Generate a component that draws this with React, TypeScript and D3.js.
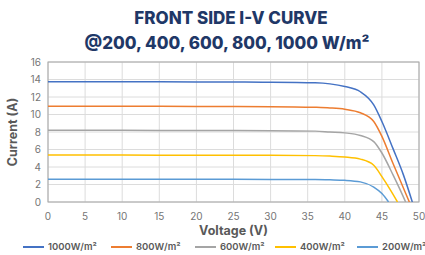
import React from 'react';
import * as d3 from 'd3';

// series labels & colours (Excel-like palette)
const seriesNames = ['1000W/m²', '800W/m²', '600W/m²', '400W/m²', '200W/m²'];
const seriesColors = ['#4472c4', '#ed7d31', '#a5a5a5', '#ffc000', '#5b9bd5'];

// I-V points: [voltage, current]
const iv1000: [number, number][] = [
  [0, 13.75], [10, 13.74], [20, 13.72], [30, 13.69], [36, 13.62], [38, 13.5], [40, 13.2],
  [42.1, 12.6], [43.9, 11.1], [45, 9.2], [46.5, 6.1], [47.9, 3.1], [49.1, 0],
];
const iv800: [number, number][] = [
  [0, 10.95], [10, 10.94], [20, 10.92], [30, 10.9], [36, 10.82], [38, 10.75], [40, 10.6],
  [42.1, 10.2], [43.9, 9.2], [45, 7.5], [46.5, 4.4], [47.7, 2.0], [48.7, 0],
];
const iv600: [number, number][] = [
  [0, 8.2], [10, 8.19], [20, 8.17], [30, 8.15], [36, 8.1], [38, 8.0], [40, 7.9],
  [42.1, 7.6], [43.9, 6.9], [45, 5.6], [46.5, 3.1], [47.4, 1.5], [48.2, 0],
];
const iv400: [number, number][] = [
  [0, 5.37], [10, 5.36], [20, 5.35], [30, 5.34], [36, 5.3], [38, 5.25], [40, 5.15],
  [42.1, 4.9], [43.9, 4.2], [45, 2.9], [46.2, 1.3], [47.1, 0],
];
const iv200: [number, number][] = [
  [0, 2.6], [10, 2.6], [20, 2.59], [30, 2.58], [36, 2.56], [38, 2.53], [40, 2.48],
  [42.1, 2.3], [43.9, 1.7], [45, 0.96], [45.9, 0],
];
const seriesData = [iv1000, iv800, iv600, iv400, iv200];

const xTicks = [0, 5, 10, 15, 20, 25, 30, 35, 40, 45, 50];
const yTicks = [0, 2, 4, 6, 8, 10, 12, 14, 16];

const W = 425;
const H = 255;
const margin = { left: 48, right: 6, top: 62, bottom: 53 };

const font = 'Inter, "Open Sans", sans-serif';

export default function App() {
  const x = d3.scaleLinear().domain([0, 50]).range([margin.left, W - margin.right]);
  const y = d3.scaleLinear().domain([0, 16]).range([H - margin.bottom, margin.top]);

  const line = d3
    .line<[number, number]>()
    .x((d) => x(d[0]))
    .y((d) => y(d[1]))
    .curve(d3.curveMonotoneX);

  const legendX = [23, 111, 195, 275, 357];

  return (
    <svg
      width={W}
      height={H}
      style={{ position: 'absolute', left: 0, top: 0, background: '#fff' }}
      fontFamily={font}
    >
      {/* title */}
      <text x={231} y={24} textAnchor="middle" fontSize={17} fontWeight={800} fill="#1f3867">
        FRONT SIDE I-V CURVE
      </text>
      <text x={227} y={49} textAnchor="middle" fontSize={17} fontWeight={800} fill="#1f3867">
        @200, 400, 600, 800, 1000 W/m²
      </text>

      {/* grid */}
      {yTicks.map((t) => (
        <line key={'gy' + t} x1={x(0)} x2={x(50)} y1={y(t)} y2={y(t)} stroke="#dcdcdc" strokeWidth={1} />
      ))}
      {xTicks.map((t) => (
        <line key={'gx' + t} x1={x(t)} x2={x(t)} y1={y(0)} y2={y(16)} stroke="#dcdcdc" strokeWidth={1} />
      ))}
      <rect
        x={x(0)}
        y={y(16)}
        width={x(50) - x(0)}
        height={y(0) - y(16)}
        fill="none"
        stroke="#a6a6a6"
        strokeWidth={1}
      />

      {/* curves */}
      <defs>
        <clipPath id="plotClip">
          <rect x={x(0)} y={y(16)} width={x(50) - x(0)} height={y(0) - y(16)} />
        </clipPath>
      </defs>
      <g clipPath="url(#plotClip)">
        {seriesData.map((s, i) => (
          <path key={i} d={line(s) || ''} fill="none" stroke={seriesColors[i]} strokeWidth={1.5} />
        ))}
      </g>

      {/* y tick labels */}
      {yTicks.map((t) => (
        <text key={'ty' + t} x={x(0) - 7} y={y(t)} dy="0.35em" textAnchor="end" fontSize={10} fill="#757575">
          {t}
        </text>
      ))}
      {/* x tick labels */}
      {xTicks.map((t) => (
        <text key={'tx' + t} x={x(t)} y={216} dy="0.35em" textAnchor="middle" fontSize={10} fill="#757575">
          {t}
        </text>
      ))}

      {/* axis titles */}
      <text x={x(25)} y={231} dy="0.35em" textAnchor="middle" fontSize={12.5} fontWeight={700} fill="#595959">
        Voltage (V)
      </text>
      <text
        transform={`translate(13,${y(8)}) rotate(-90)`}
        dy="0.35em"
        textAnchor="middle"
        fontSize={12.5}
        fontWeight={700}
        fill="#595959"
      >
        Current (A)
      </text>

      {/* legend */}
      {seriesNames.map((n, i) => (
        <g key={n} transform={`translate(${legendX[i]},247)`}>
          <line x1={0} x2={21} y1={0} y2={0} stroke={seriesColors[i]} strokeWidth={2} />
          <text x={25} y={0} dy="0.35em" fontSize={9.5} fontWeight={600} fill="#595959">
            {n}
          </text>
        </g>
      ))}
    </svg>
  );
}
